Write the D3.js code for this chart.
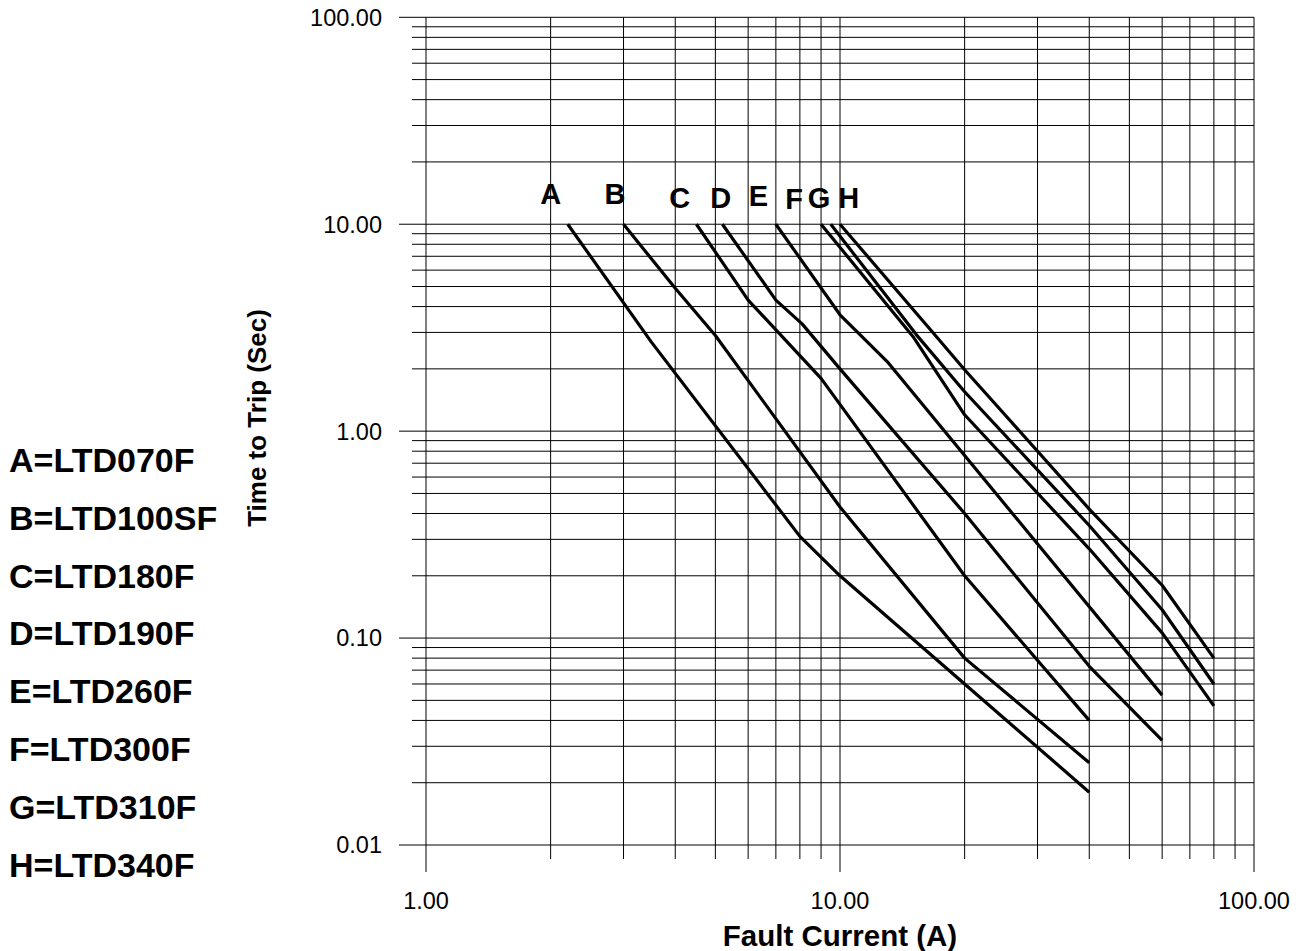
<!DOCTYPE html>
<html>
<head>
<meta charset="utf-8">
<script src="https://cdn.jsdelivr.net/npm/d3@7"></script>
<style>
  body { margin: 0; background: #fff; }
  svg { display: block; font-family: "Liberation Sans", Arial, sans-serif; }
</style>
</head>
<body>
<svg id="chart"></svg>
<script>
var width = 1312, height = 951

// curve letters and the fuse they stand for
var curveNames = ["A", "B", "C", "D", "E", "F", "G", "H"]
var fuseTypes = ["LTD070F", "LTD100SF", "LTD180F", "LTD190F", "LTD260F", "LTD300F", "LTD310F", "LTD340F"]

// [fault current (A), time to trip (s)]
var curveA = [[2.2, 10], [3.5, 2.7], [8, 0.31], [10, 0.2], [20, 0.06], [40, 0.018]]
var curveB = [[3, 10], [4, 4.9], [5, 2.9], [10, 0.43], [20, 0.08], [40, 0.025]]
var curveC = [[4.5, 10], [6, 4.3], [9, 1.8], [20, 0.2], [40, 0.04]]
var curveD = [[5.2, 10], [7, 4.3], [8.1, 3.3], [10, 2.0], [20, 0.4], [40, 0.073], [60, 0.032]]
var curveE = [[7, 10], [10, 3.65], [13, 2.17], [60, 0.053]]
var curveF = [[9, 10], [15, 2.87], [20, 1.2], [40, 0.27], [60, 0.106], [80, 0.047]]
var curveG = [[9.5, 10], [15.3, 2.92], [20, 1.55], [40, 0.35], [60, 0.137], [80, 0.06]]
var curveH = [[10, 10], [17, 2.9], [20, 1.98], [40, 0.42], [60, 0.18], [80, 0.08]]
var curves = [curveA, curveB, curveC, curveD, curveE, curveF, curveG, curveH]

// where the letters sit, in chart units
var labelCurrent = [2.0, 2.86, 4.1, 5.15, 6.35, 7.75, 8.9, 10.5]
var labelTime = [12.5, 12.5, 12.0, 12.0, 12.2, 11.9, 12.0, 12.0]

var xTicks = [1, 10, 100]
var yTicks = [0.01, 0.1, 1, 10, 100]

var x = d3.scaleLog().domain([1, 100]).range([426, 1254])
var y = d3.scaleLog().domain([0.01, 100]).range([845, 17.3])
var fmt = d3.format(".2f")

function isMajor(v) {
  return Math.abs(Math.log10(v) - Math.round(Math.log10(v))) < 1e-9
}

// every 1..9 step of each decade
function decadeSteps(lo, hi) {
  var out = []
  for (var d = lo; d < hi; d *= 10)
    for (var k = 1; k < 10; k++) out.push(+(d * k).toPrecision(3))
  out.push(hi)
  return out
}

var svg = d3.select("#chart").attr("width", width).attr("height", height)
svg.append("rect").attr("width", width).attr("height", height).attr("fill", "#fff")

var grid = svg.append("g").attr("stroke", "#000").attr("stroke-width", 1)

grid.selectAll("line.h")
  .data(decadeSteps(0.01, 100))
  .enter().append("line")
    .attr("class", "h")
    .attr("x1", d => x(1) - (isMajor(d) ? 27 : 14))
    .attr("x2", x(100))
    .attr("y1", d => y(d))
    .attr("y2", d => y(d))

grid.selectAll("line.v")
  .data(decadeSteps(1, 100))
  .enter().append("line")
    .attr("class", "v")
    .attr("x1", d => x(d))
    .attr("x2", d => x(d))
    .attr("y1", y(100))
    .attr("y2", d => y(0.01) + (isMajor(d) ? 27 : 14))

svg.append("g").selectAll("text")
  .data(yTicks)
  .enter().append("text")
    .attr("x", 382)
    .attr("y", d => y(d) + 8.4)
    .attr("text-anchor", "end")
    .attr("font-size", 23.5)
    .text(d => fmt(d))

svg.append("g").selectAll("text")
  .data(xTicks)
  .enter().append("text")
    .attr("x", d => x(d))
    .attr("y", 909)
    .attr("text-anchor", "middle")
    .attr("font-size", 23.5)
    .text(d => fmt(d))

var line = d3.line()
  .x(d => x(d[0]))
  .y(d => y(d[1]))

svg.append("g")
    .attr("fill", "none")
    .attr("stroke", "#000")
    .attr("stroke-width", 3.2)
    .attr("stroke-linejoin", "round")
  .selectAll("path")
  .data(curves)
  .enter().append("path")
    .attr("d", line)

svg.append("g").selectAll("text")
  .data(curveNames)
  .enter().append("text")
    .attr("x", (d, i) => x(labelCurrent[i]))
    .attr("y", (d, i) => y(labelTime[i]))
    .attr("text-anchor", "middle")
    .attr("font-size", 29)
    .attr("font-weight", "bold")
    .text(d => d)

svg.append("g").selectAll("text")
  .data(curveNames)
  .enter().append("text")
    .attr("x", 9)
    .attr("y", (d, i) => 472 + i * 57.8)
    .attr("font-size", 34)
    .attr("font-weight", "bold")
    .text((d, i) => d + "=" + fuseTypes[i])

svg.append("text")
    .attr("x", x(10))
    .attr("y", 946)
    .attr("text-anchor", "middle")
    .attr("font-size", 29.5)
    .attr("font-weight", "bold")
    .text("Fault Current (A)")

svg.append("text")
    .attr("transform", "translate(266,418) rotate(-90)")
    .attr("text-anchor", "middle")
    .attr("font-size", 26)
    .attr("font-weight", "bold")
    .text("Time to Trip (Sec)")
</script>
</body>
</html>
